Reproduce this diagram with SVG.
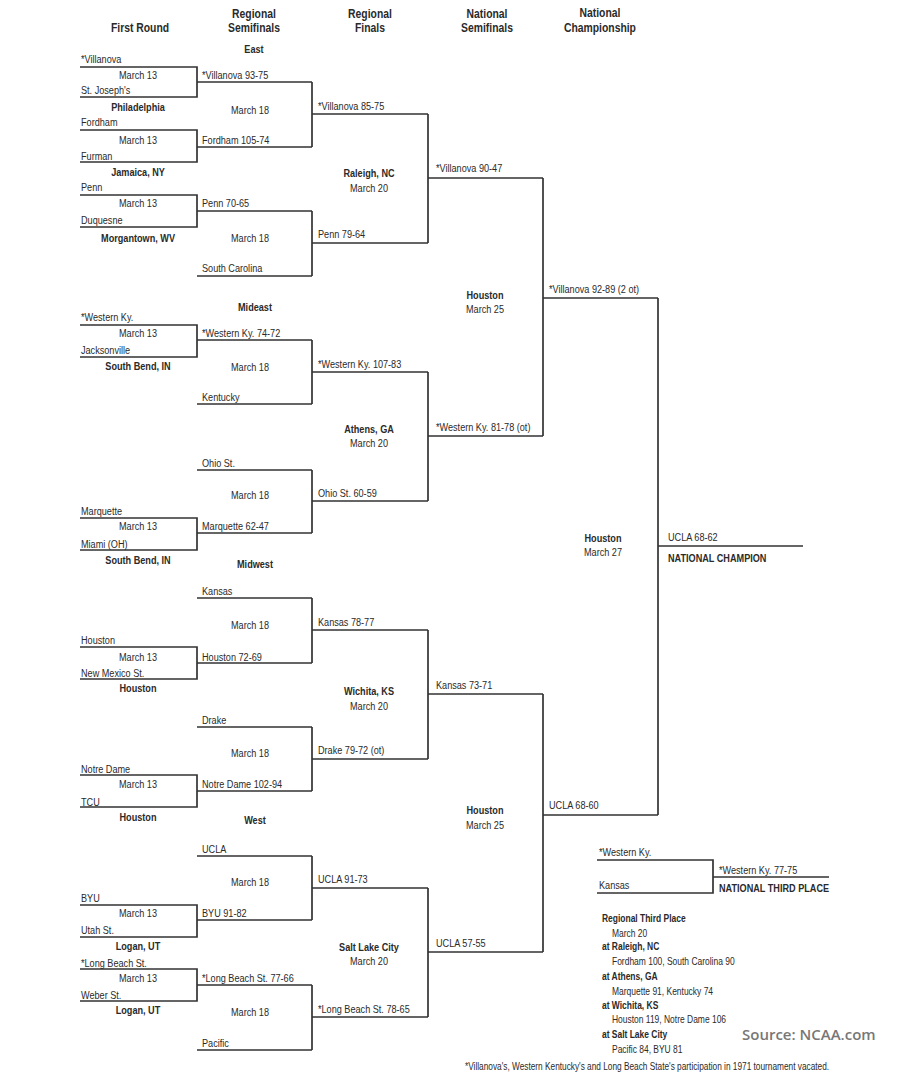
<svg xmlns="http://www.w3.org/2000/svg" width="900" height="1080" viewBox="0 0 900 1080">
<style>
text{font-family:"Liberation Sans",Arial,sans-serif;fill:#2a2a2a;font-size:11px}
.b{font-weight:bold}
.h{font-weight:bold;font-size:12.5px;text-anchor:middle}
.c{text-anchor:middle}
.s{font-size:10.2px}
.l{fill:none;stroke:#333;stroke-width:1.7}
.src{font-family:"Open Sans","Liberation Sans",sans-serif;font-weight:600;font-size:15px;fill:#777}
.fn{font-size:10px}
</style>
<rect width="900" height="1080" fill="#fff"/>
<g id="connectors">
<path class="l" d="M80,67H197V97H80M197,82H312M80,130H197V162H80M197,147H312M312,82V147M312,114H428M80,195H197V227H80M197,211H312M197,276H312M312,211V276M312,243H428M428,114V243M428,178H543"/>
<path class="l" d="M80,325H197V357H80M197,340H312M197,404H312M312,340V404M312,372H428M197,470H312M80,518H197V550H80M197,533H312M312,470V533M312,501H428M428,372V501M428,436H543M543,178V436M543,298H658"/>
<path class="l" d="M197,598H312M80,647H197V679H80M197,663H312M312,598V663M312,630H428M197,727H312M80,775H197V807H80M197,791H312M312,727V791M312,759H428M428,630V759M428,694H543"/>
<path class="l" d="M197,856H312M80,905H197V937H80M197,920H312M312,856V920M312,888H428M80,969H197V1001H80M197,985H312M197,1050H312M312,985V1050M312,1017H428M428,888V1017M428,952H543M543,694V952M543,815H658M658,298V815M658,546H803"/>
<path class="l" d="M597,860H713V893H597M713,877H829"/>
</g>
<g transform="scale(0.83 1)">
<g id="headers">
<text class="h" x="168.67" y="32">First Round</text>
<text class="h" x="306.02" y="18">Regional</text><text class="h" x="306.02" y="32">Semifinals</text>
<text class="h" x="445.78" y="18">Regional</text><text class="h" x="445.78" y="32">Finals</text>
<text class="h" x="586.75" y="18">National</text><text class="h" x="586.75" y="32">Semifinals</text>
<text class="h" x="722.89" y="17">National</text><text class="h" x="722.89" y="32">Championship</text>
<text class="b c" x="306.02" y="53">East</text>
<text class="b c" x="307.23" y="311">Mideast</text>
<text class="b c" x="307.23" y="568">Midwest</text>
<text class="b c" x="307.23" y="824">West</text>
</g>
<g id="east-fr1"><text x="97.59" y="63">*Villanova</text><text class="c" x="166.27" y="79">March 13</text><text x="97.59" y="94">St. Joseph's</text><text class="b c" x="166.27" y="111">Philadelphia</text></g>
<g id="east-fr2"><text x="97.59" y="126">Fordham</text><text class="c" x="166.27" y="144">March 13</text><text x="97.59" y="160">Furman</text><text class="b c" x="166.27" y="176">Jamaica, NY</text></g>
<g id="east-fr3"><text x="97.59" y="191">Penn</text><text class="c" x="166.27" y="207">March 13</text><text x="97.59" y="224">Duquesne</text><text class="b c" x="166.27" y="242">Morgantown, WV</text></g>
<g id="east-rs1"><text x="243.37" y="79">*Villanova 93-75</text><text class="c" x="301.2" y="114">March 18</text><text x="243.37" y="144">Fordham 105-74</text></g>
<g id="east-rs2"><text x="243.37" y="207">Penn 70-65</text><text class="c" x="301.2" y="242">March 18</text><text x="243.37" y="272">South Carolina</text></g>
<g id="east-rf"><text x="383.13" y="110">*Villanova 85-75</text><text class="b c" x="444.58" y="177">Raleigh, NC</text><text class="c" x="444.58" y="192">March 20</text><text x="383.13" y="238">Penn 79-64</text></g>
<g id="mideast-fr1"><text x="97.59" y="321">*Western Ky.</text><text class="c" x="166.27" y="337">March 13</text><text x="97.59" y="354">Jacksonville</text><text class="b c" x="166.27" y="370">South Bend, IN</text></g>
<g id="mideast-rs1"><text x="243.37" y="337">*Western Ky. 74-72</text><text class="c" x="301.2" y="371">March 18</text><text x="243.37" y="401">Kentucky</text></g>
<g id="mideast-rs2"><text x="243.37" y="467">Ohio St.</text><text class="c" x="301.2" y="499">March 18</text><text x="243.37" y="530">Marquette 62-47</text></g>
<g id="mideast-fr2"><text x="97.59" y="515">Marquette</text><text class="c" x="166.27" y="530">March 13</text><text x="97.59" y="548">Miami (OH)</text><text class="b c" x="166.27" y="564">South Bend, IN</text></g>
<g id="mideast-rf"><text x="383.13" y="368">*Western Ky. 107-83</text><text class="b c" x="444.58" y="433">Athens, GA</text><text class="c" x="444.58" y="447">March 20</text><text x="383.13" y="497">Ohio St. 60-59</text></g>
<g id="ns1"><text x="525.3" y="172">*Villanova 90-47</text><text class="b c" x="584.34" y="299">Houston</text><text class="c" x="584.34" y="313">March 25</text><text x="525.3" y="431">*Western Ky. 81-78 (ot)</text></g>
<g id="midwest-rs1"><text x="243.37" y="595">Kansas</text><text class="c" x="301.2" y="629">March 18</text><text x="243.37" y="661">Houston 72-69</text></g>
<g id="midwest-fr1"><text x="97.59" y="644">Houston</text><text class="c" x="166.27" y="661">March 13</text><text x="97.59" y="677">New Mexico St.</text><text class="b c" x="166.27" y="692">Houston</text></g>
<g id="midwest-rs2"><text x="243.37" y="724">Drake</text><text class="c" x="301.2" y="757">March 18</text><text x="243.37" y="788">Notre Dame 102-94</text></g>
<g id="midwest-fr2"><text x="97.59" y="773">Notre Dame</text><text class="c" x="166.27" y="788">March 13</text><text x="97.59" y="806">TCU</text><text class="b c" x="166.27" y="821">Houston</text></g>
<g id="midwest-rf"><text x="383.13" y="626">Kansas 78-77</text><text class="b c" x="444.58" y="695">Wichita, KS</text><text class="c" x="444.58" y="710">March 20</text><text x="383.13" y="754">Drake 79-72 (ot)</text></g>
<g id="west-rs1"><text x="243.37" y="853">UCLA</text><text class="c" x="301.2" y="886">March 18</text><text x="243.37" y="917">BYU 91-82</text></g>
<g id="west-fr1"><text x="97.59" y="902">BYU</text><text class="c" x="166.27" y="917">March 13</text><text x="97.59" y="934">Utah St.</text><text class="b c" x="166.27" y="950">Logan, UT</text></g>
<g id="west-fr2"><text x="97.59" y="967">*Long Beach St.</text><text class="c" x="166.27" y="982">March 13</text><text x="97.59" y="999">Weber St.</text><text class="b c" x="166.27" y="1014">Logan, UT</text></g>
<g id="west-rs2"><text x="243.37" y="982">*Long Beach St. 77-66</text><text class="c" x="301.2" y="1016">March 18</text><text x="243.37" y="1047">Pacific</text></g>
<g id="west-rf"><text x="383.13" y="883">UCLA 91-73</text><text class="b c" x="444.58" y="951">Salt Lake City</text><text class="c" x="444.58" y="965">March 20</text><text x="383.13" y="1013">*Long Beach St. 78-65</text></g>
<g id="ns2"><text x="525.3" y="689">Kansas 73-71</text><text class="b c" x="584.34" y="814">Houston</text><text class="c" x="584.34" y="829">March 25</text><text x="525.3" y="947">UCLA 57-55</text></g>
<g id="final"><text x="661.45" y="293">*Villanova 92-89 (2 ot)</text><text class="b c" x="726.51" y="542">Houston</text><text class="c" x="726.51" y="556">March 27</text><text x="661.45" y="809">UCLA 68-60</text><text x="804.82" y="541">UCLA 68-62</text><text class="b" x="804.82" y="562">NATIONAL CHAMPION</text></g>
<g id="third"><text x="721.69" y="856">*Western Ky.</text><text x="721.69" y="889">Kansas</text><text x="866.27" y="874">*Western Ky. 77-75</text><text class="b" x="866.27" y="892">NATIONAL THIRD PLACE</text></g>
<g id="regional-third">
<text class="b s" x="725.3" y="922">Regional Third Place</text>
<text class="s" x="737.35" y="937">March 20</text>
<text class="b s" x="725.3" y="950">at Raleigh, NC</text>
<text class="s" x="737.35" y="965">Fordham 100, South Carolina 90</text>
<text class="b s" x="725.3" y="980">at Athens, GA</text>
<text class="s" x="737.35" y="995">Marquette 91, Kentucky 74</text>
<text class="b s" x="725.3" y="1009">at Wichita, KS</text>
<text class="s" x="737.35" y="1023">Houston 119, Notre Dame 106</text>
<text class="b s" x="725.3" y="1038">at Salt Lake City</text>
<text class="s" x="737.35" y="1053">Pacific 84, BYU 81</text>
</g>
<text class="fn" x="560.24" y="1070">*Villanova's, Western Kentucky's and Long Beach State's participation in 1971 tournament vacated.</text>
</g>
<text class="src" x="742" y="1040">Source: NCAA.com</text>
</svg>
